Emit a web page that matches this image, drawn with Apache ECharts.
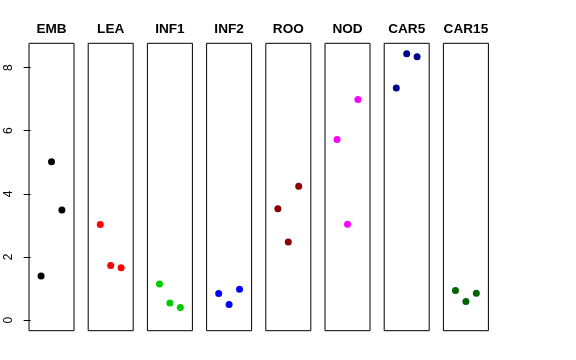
<!DOCTYPE html>
<html><head><meta charset="utf-8">
<script src="https://cdn.jsdelivr.net/npm/echarts@6/dist/echarts.min.js"></script>
<style>html,body{margin:0;padding:0;background:#fff}#c{width:576px;height:360px}</style>
</head><body><div id="c"></div>
<script>
const categories = ['EMB','LEA','INF1','INF2','ROO','NOD','CAR5','CAR15'];
const pointIndex = [1, 2, 3];
const EMB   = [1.40, 5.02, 3.49];
const LEA   = [3.03, 1.73, 1.66];
const INF1  = [1.14, 0.54, 0.40];
const INF2  = [0.84, 0.49, 0.98];
const ROO   = [3.53, 2.47, 4.24];
const NOD   = [5.72, 3.04, 6.99];
const CAR5  = [7.35, 8.44, 8.34];
const CAR15 = [0.94, 0.59, 0.85];
const yTicks = [0, 2, 4, 6, 8];
const groupValues = [EMB, LEA, INF1, INF2, ROO, NOD, CAR5, CAR15];
const colors = ['#000000','#FF0000','#00CD00','#0000FF','#8B0000','#FF00FF','#00008B','#006400'];

const left0 = 29, step = 59.2, pw = 45, gTop = 43.3, ph = 287.4;
const grids = [], xAxes = [], yAxes = [], series = [], labels = [];
categories.forEach((cat, i) => {
  const l = left0 + i * step;
  grids.push({left: l, top: gTop, width: pw, height: ph, show: true,
    borderColor: '#000', borderWidth: 1, backgroundColor: 'transparent', containLabel: false});
  xAxes.push({type: 'value', gridIndex: i, min: -0.16, max: 4.16, show: false});
  yAxes.push({type: 'value', gridIndex: i, min: -0.337, max: 8.77, show: i === 0,
    splitLine: {show: false}, axisLine: {show: false},
    axisTick: {show: true, length: 7, inside: false, customValues: yTicks,
      lineStyle: {color: '#000', width: 1}},
    axisLabel: {show: true, customValues: yTicks, rotate: 90, margin: 14,
      color: '#000', fontSize: 12, fontFamily: 'Liberation Sans, Arial, sans-serif'}});
  series.push({type: 'scatter', xAxisIndex: i, yAxisIndex: i, symbol: 'circle', symbolSize: 7,
    itemStyle: {color: colors[i], opacity: 1}, silent: true, animation: false,
    data: pointIndex.map((x, k) => [x, groupValues[i][k]])});
  labels.push({type: 'text', x: l + pw / 2, y: 29.5, silent: true,
    style: {text: cat, textAlign: 'center', textVerticalAlign: 'middle', fill: '#000',
      font: 'bold 13.6px "Liberation Sans", Arial, sans-serif'}});
});

const chart = echarts.init(document.getElementById('c'), null, {renderer: 'canvas'});
chart.setOption({animation: false, backgroundColor: '#fff', graphic: labels,
  grid: grids, xAxis: xAxes, yAxis: yAxes, series: series});
</script></body></html>
